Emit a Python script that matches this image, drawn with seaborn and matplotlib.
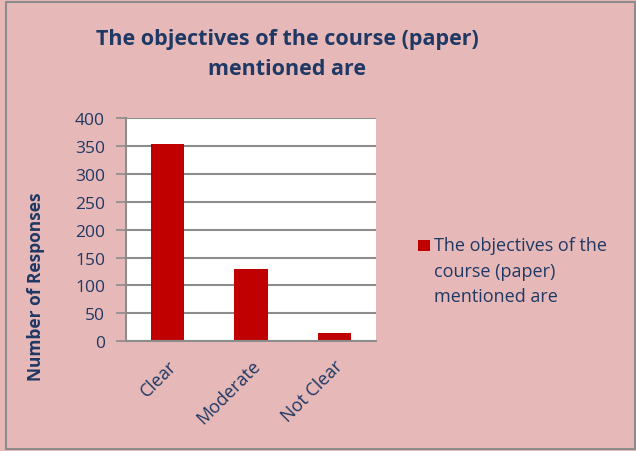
import matplotlib
matplotlib.use("Agg")
import matplotlib.pyplot as plt
import seaborn as sns
import pandas as pd
from matplotlib.patches import Rectangle

# data
categories = ["Clear", "Moderate", "Not Clear"]
responses = [354, 129, 15]
series_name = "The objectives of the\ncourse (paper)\nmentioned are"
title = "The objectives of the course (paper)\nmentioned are"

navy = "#1F3864"
bar_red = "#C00000"
bg = "#E6B9B8"

sns.set_theme(style="white")
plt.rcParams['font.family'] = ['Open Sans', 'DejaVu Sans']

df = pd.DataFrame({"category": categories, "responses": responses})

fig = plt.figure(figsize=(6.36, 4.52), dpi=100)
fig.patch.set_facecolor(bg)
ax = fig.add_axes([0.198, 0.243, 0.393, 0.493])
ax.set_facecolor("white")

sns.barplot(data=df, x="category", y="responses", color=bar_red,
            width=0.4, saturation=1, ax=ax)
for p in ax.patches:
    p.set_edgecolor("none")

ax.set_ylim(0, 400)
ax.set_yticks(range(0, 401, 50))
ax.yaxis.grid(True, color="#8C8C8C", linewidth=1.5)
ax.set_axisbelow(True)
for s in ["top", "right"]:
    ax.spines[s].set_visible(False)
ax.spines["left"].set_color("#8C8C8C")
ax.spines["bottom"].set_color("#8C8C8C")
ax.spines["left"].set_linewidth(1.5)
ax.spines["bottom"].set_linewidth(1.5)

ax.tick_params(axis="y", left=True, length=7, color="#8C8C8C", width=1.2,
               labelsize=12.5, labelcolor=navy, pad=8)
ax.tick_params(axis="x", bottom=False, labelsize=13, labelcolor=navy, pad=5)
plt.setp(ax.get_xticklabels(), rotation=45, ha="right", rotation_mode="anchor")

ax.set_xlabel("")
ax.set_ylabel("")
fig.text(0.057, 0.365, "Number of Responses", rotation=90, ha="center", va="center",
         fontsize=12.5, fontweight="bold", color=navy)

fig.text(0.452, 0.879, title, ha="center", va="center", fontsize=15.5,
         fontweight="bold", color=navy, linespacing=1.6)

# legend
fig.patches.append(Rectangle((0.657, 0.4425), 0.019, 0.024, transform=fig.transFigure,
                             facecolor=bar_red, edgecolor="none"))
fig.text(0.683, 0.399, series_name, ha="left", va="center", fontsize=13,
         color=navy, linespacing=1.55)

# outer border
fig.patches.append(Rectangle((0.009, 0.004), 0.99, 0.99, transform=fig.transFigure,
                             facecolor="none", edgecolor="#8C8C8C", linewidth=1.5))

fig.savefig("out.png", dpi=100, facecolor=bg)
